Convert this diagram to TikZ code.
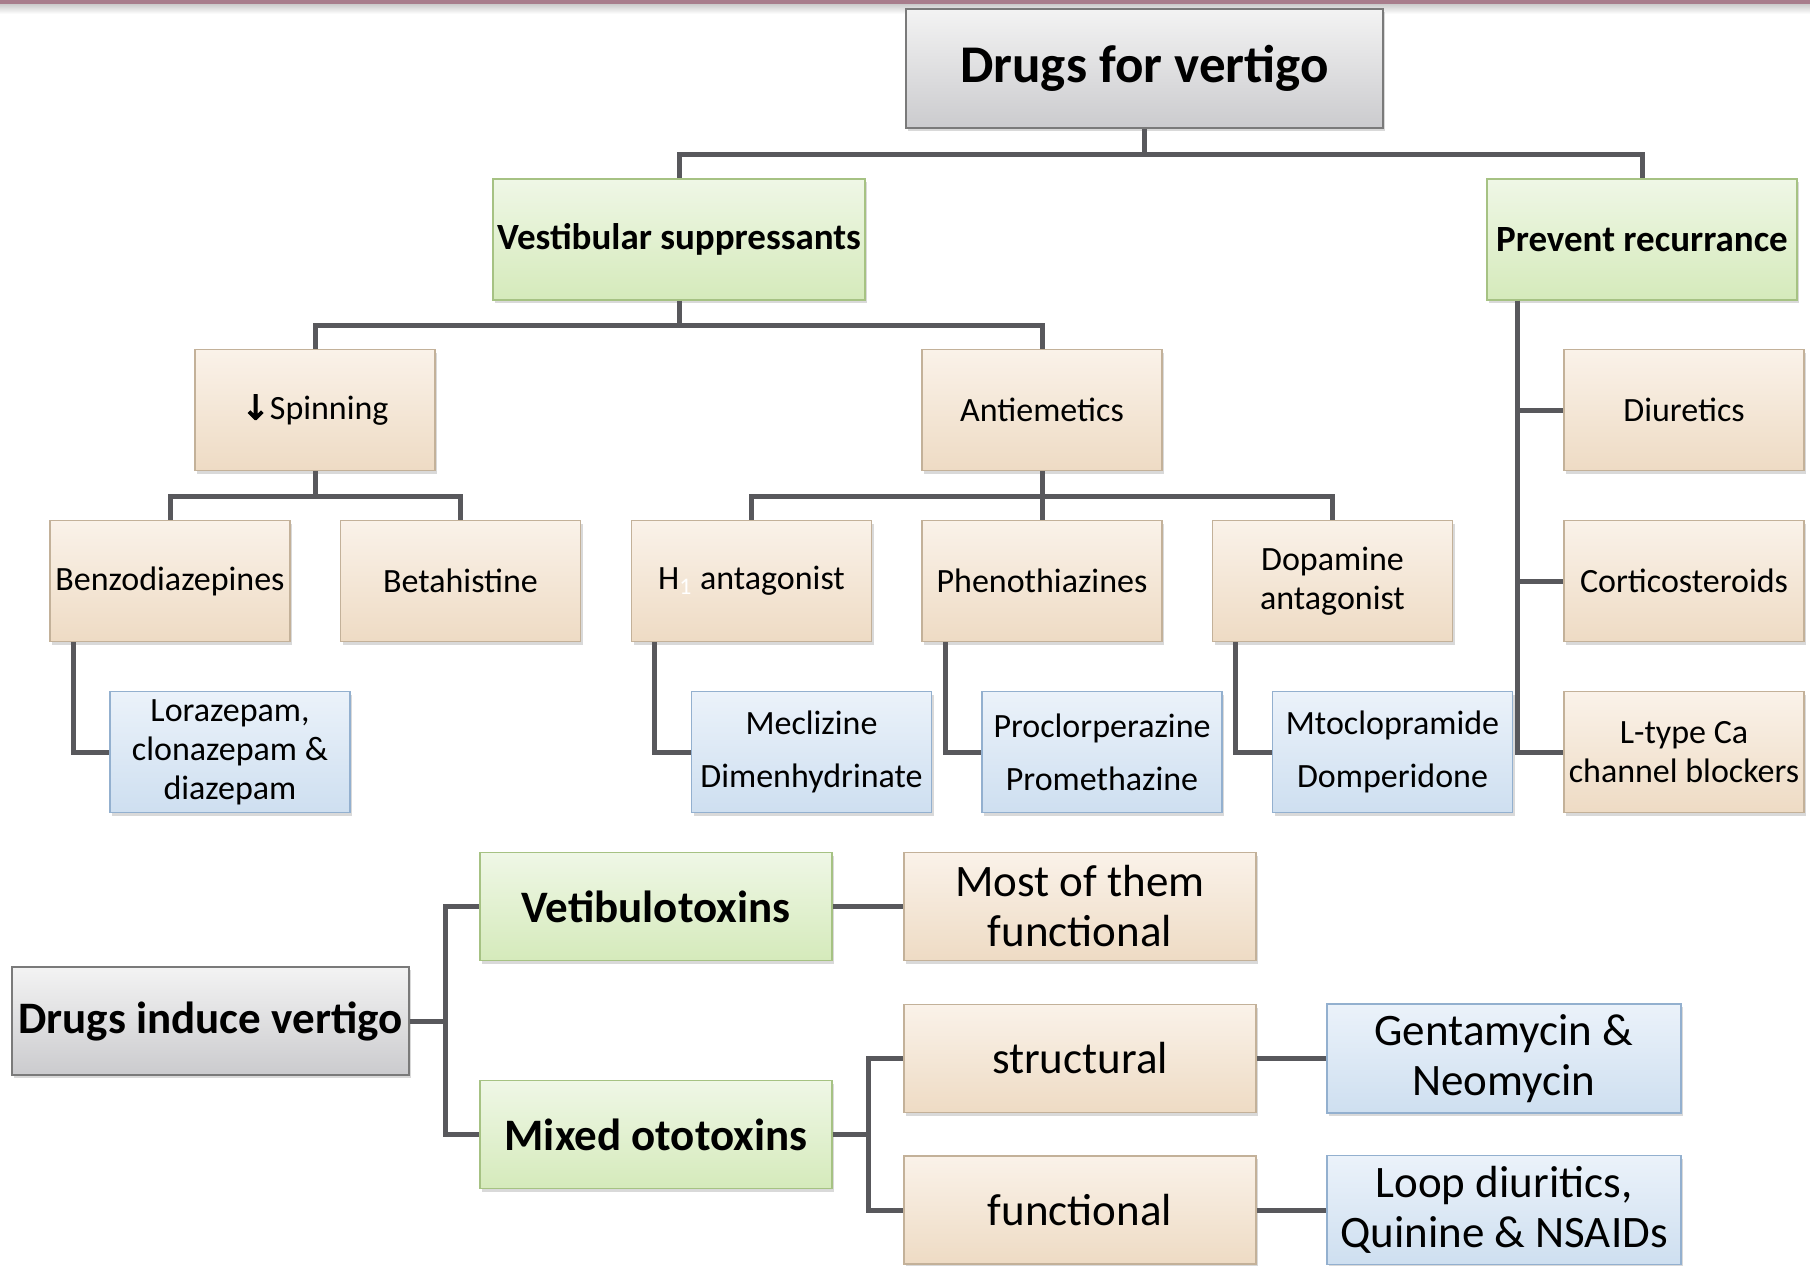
\documentclass[tikz,border=0pt]{standalone}
\usepackage{fontspec}
\setmainfont{Carlito}
\newfontfamily\arrowfont[FakeBold=3]{DejaVu Sans}
\usepackage{tikz}
\usetikzlibrary{positioning,shadows}
\definecolor{tantop}{HTML}{FAF2E9}
\definecolor{tanbot}{HTML}{EEDBC4}
\definecolor{tanedge}{HTML}{C3B199}
\definecolor{greentop}{HTML}{EFF7E6}
\definecolor{greenbot}{HTML}{D5EABB}
\definecolor{greenedge}{HTML}{A6C283}
\definecolor{bluetop}{HTML}{EBF2FA}
\definecolor{bluebot}{HTML}{CEDFF0}
\definecolor{blueedge}{HTML}{93B0CF}
\definecolor{graytop}{HTML}{F3F3F3}
\definecolor{graybot}{HTML}{CBCBCE}
\definecolor{grayedge}{HTML}{7A7A7A}
\definecolor{linkgray}{HTML}{58585C}
\definecolor{topband}{HTML}{A87D8C}
\tikzset{box/.style={rectangle,line width=0.75pt,inner sep=1pt,align=center,text=black,
  drop shadow={shadow xshift=1.2pt,shadow yshift=-1.5pt,opacity=0.3}}}
\tikzset{tanbox/.style={box,draw=tanedge,top color=tantop,bottom color=tanbot,
  minimum width=120pt,minimum height=60.5pt,font=\fontsize{17}{19.5}\selectfont}}
\tikzset{bluebox/.style={box,draw=blueedge,top color=bluetop,bottom color=bluebot,
  minimum width=120pt,minimum height=60.5pt,font=\fontsize{17}{19.5}\selectfont}}
\tikzset{greenbox/.style={box,draw=greenedge,top color=greentop,bottom color=greenbot,
  minimum height=60.5pt,font=\fontsize{18.5}{21}\selectfont\bfseries}}
\tikzset{graybox/.style={box,draw=grayedge,top color=graytop,bottom color=graybot}}
\tikzset{bigtan/.style={tanbox,minimum width=176pt,minimum height=54pt,font=\fontsize{22.5}{25}\selectfont}}
\tikzset{bigblue/.style={bluebox,minimum width=177pt,minimum height=54.5pt,font=\fontsize{22.5}{25}\selectfont}}
\tikzset{biggreen/.style={greenbox,minimum width=176pt,minimum height=54pt,font=\fontsize{22.5}{25}\selectfont\bfseries}}
\tikzset{link/.style={draw=linkgray,line width=2.5pt}}

\begin{document}
\begin{tikzpicture}[x=0.5pt,y=-0.5pt]
  \useasboundingbox (0,0) rectangle (1810,1265);
  % top band
  \shade[top color=gray!45,bottom color=white] (0,3) rectangle (1810,14);
  \fill[topband] (0,0) rectangle (1810,3.5);

  % upper tree
  \node[graybox,minimum width=238.5pt,minimum height=59.5pt,font=\fontsize{26.5}{30}\selectfont\bfseries] (title) at (1144.5,68.5) {Drugs for vertigo};
  \node[greenbox,minimum width=186pt] (vest) at (679,239.5) {Vestibular suppressants};
  \node[greenbox,minimum width=155pt] (prev) at (1642,239.5) {Prevent recurrance};

  \node[tanbox] (spin) at (315,410) {{\arrowfont ↓}Spinning};
  \node[tanbox] (anti) at (1042,410) {Antiemetics};
  \node[tanbox] (diur) at (1684,410) {Diuretics};

  \node[tanbox] (benzo) at (170,581) {Benzodiazepines};
  \node[tanbox,right=24.5pt of benzo] (beta) {Betahistine};
  \node[tanbox] (hone) at (751.5,581) {H\textsubscript{\color{white}1}\ antagonist};
  \node[tanbox,right=24.5pt of hone] (pheno) {Phenothiazines};
  \node[tanbox,right=24.5pt of pheno] (dopa) {Dopamine\\antagonist};
  \node[tanbox] (cort) at (1684,581) {Corticosteroids};

  \node[bluebox] (lora) at (230,752) {Lorazepam,\\clonazepam \&\\diazepam};
  \node[bluebox] (mecl) at (811.5,752) {Meclizine\\[7pt]Dimenhydrinate};
  \node[bluebox,right=24.5pt of mecl] (procl) {Proclorperazine\\[7pt]Promethazine};
  \node[bluebox,right=24.5pt of procl] (mtoc) {Mtoclopramide\\[7pt]Domperidone};
  \node[tanbox] (ltype) at (1684,752) {L-type Ca\\channel blockers};

  \draw[link] (title.south) -- ++(0,25.5) -| (vest.north);
  \draw[link] (title.south) -- ++(0,25.5) -| (prev.north);
  \draw[link] (vest.south) -- ++(0,24.5) -| (spin.north);
  \draw[link] (vest.south) -- ++(0,24.5) -| (anti.north);
  \draw[link] (spin.south) -- ++(0,25) -| (benzo.north);
  \draw[link] (spin.south) -- ++(0,25) -| (beta.north);
  \draw[link] (anti.south) -- ++(0,25) -| (hone.north);
  \draw[link] (anti.south) -- ++(0,25) -| (pheno.north);
  \draw[link] (anti.south) -- ++(0,25) -| (dopa.north);
  \draw[link] ([xshift=15.5pt]prev.south west) |- (diur.west);
  \draw[link] ([xshift=15.5pt]prev.south west) |- (cort.west);
  \draw[link] ([xshift=15.5pt]prev.south west) |- (ltype.west);
  \draw[link] ([xshift=12pt]benzo.south west) |- (lora.west);
  \draw[link] ([xshift=12pt]hone.south west) |- (mecl.west);
  \draw[link] ([xshift=12pt]pheno.south west) |- (procl.west);
  \draw[link] ([xshift=12pt]dopa.south west) |- (mtoc.west);

  % lower tree
  \node[graybox,minimum width=198.5pt,minimum height=54pt,font=\fontsize{22.5}{25}\selectfont\bfseries] (dind) at (210.5,1021) {Drugs induce vertigo};
  \node[biggreen] (vtox) at (656,906.5) {Vetibulotoxins};
  \node[biggreen] (mixed) at (656,1134.5) {Mixed ototoxins};
  \node[bigtan] (most) at (1080,906.5) {Most of them\\functional};
  \node[bigtan] (struct) at (1080,1058.5) {structural};
  \node[bigtan] (func) at (1080,1210) {functional};
  \node[bigblue] (gent) at (1504,1058.5) {Gentamycin \&\\Neomycin};
  \node[bigblue] (loop) at (1504,1210) {Loop diuritics,\\Quinine \& NSAIDs};

  \draw[link] (dind.east) -- ++(35.5,0) |- (vtox.west);
  \draw[link] (dind.east) -- ++(35.5,0) |- (mixed.west);
  \draw[link] (vtox) -- (most);
  \draw[link] (mixed.east) -- ++(36,0) |- (struct.west);
  \draw[link] (mixed.east) -- ++(36,0) |- (func.west);
  \draw[link] (struct) -- (gent);
  \draw[link] (func) -- (loop);
\end{tikzpicture}
\end{document}
